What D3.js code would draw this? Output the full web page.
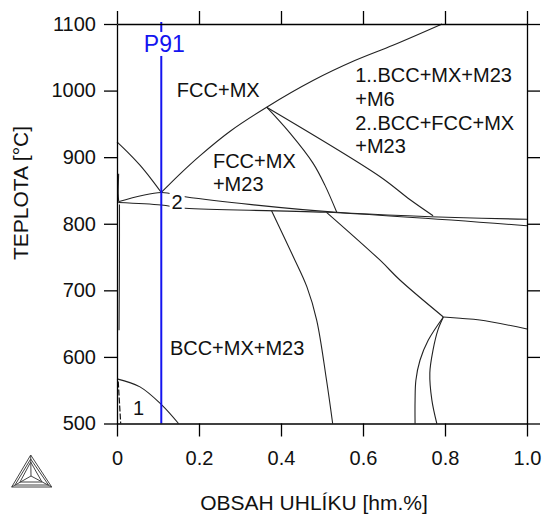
<!DOCTYPE html>
<html>
<head>
<meta charset="utf-8">
<script src="https://cdn.jsdelivr.net/npm/d3@7/dist/d3.min.js"></script>
<style>
  body { margin: 0; background: #fff; }
  svg text { font-family: "Liberation Sans", Arial, Helvetica, sans-serif; }
</style>
</head>
<body>
<script>
var xTicks = [0, 0.2, 0.4, 0.6, 0.8, 1.0];
var yTicks = [500, 600, 700, 800, 900, 1000, 1100];
var p91Carbon = 0.108;

// phase boundaries, [carbon wt.%, temperature C]
var fccMxLower = [[0.108, 847], [0.154, 875], [0.202, 902], [0.276, 939], [0.365, 975], [0.478, 1015], [0.58, 1045], [0.673, 1068], [0.793, 1100]];
var fccLeft = [[0, 923], [0.03, 905], [0.056, 888], [0.085, 866], [0.108, 847]];
var wedgeUpper = [[0.003, 833], [0.108, 847], [0.166, 840.6], [0.536, 817.2], [1.0, 806.7]];
var wedgeLower = [[0.003, 832], [0.108, 828.2], [0.166, 823.2], [0.511, 817.2], [1.0, 797]];
var m23Right = [[0.365, 975], [0.422, 936], [0.478, 891], [0.507, 858], [0.536, 817.2]];
var m6Upper = [[0.365, 975], [0.641, 871], [0.715, 836], [0.771, 812]];
var m6Lower = [[0.511, 817.2], [0.641, 745.6], [0.69, 715.5], [0.796, 660]];
var eutRight = [[0.796, 660], [0.837, 658], [0.885, 655.5], [1.0, 642]];
var eutLeftA = [[0.796, 660], [0.759, 625], [0.739, 595], [0.729, 565], [0.727, 535], [0.727, 500]];
var eutLeftB = [[0.796, 660], [0.783, 641], [0.771, 611], [0.763, 576], [0.768, 535], [0.78, 500]];
var bccMid = [[0.377, 819.5], [0.43, 750.5], [0.463, 705.5], [0.487, 655.4], [0.511, 565.3], [0.526, 500]];
var m6Low = [[0, 567], [0.056, 555], [0.109, 528], [0.15, 500]];
var nearAxisA = [[0.004, 875], [0.003, 845], [0.004, 834]];
var nearAxisB = [[0.006, 829], [0.006, 760], [0.005, 640]];
var nearAxisC = [[0.003, 563], [0.009, 500]];

var regionLabels = [
  {text: 'FCC+MX', c: 0.146, t: 990},
  {text: '1..BCC+MX+M23', c: 0.581, t: 1013},
  {text: '+M6', c: 0.581, t: 977},
  {text: '2..BCC+FCC+MX', c: 0.581, t: 941},
  {text: '+M23', c: 0.581, t: 906},
  {text: 'FCC+MX', c: 0.234, t: 884},
  {text: '+M23', c: 0.234, t: 849},
  {text: 'BCC+MX+M23', c: 0.129, t: 603},
  {text: '1', c: 0.039, t: 513}
];

var width = 543, height = 515;
var margin = {left: 117, right: 16, top: 24, bottom: 91.5};
var fontFam = '"Liberation Sans", Arial, Helvetica, sans-serif';

var svg = d3.select('body').append('svg')
  .attr('width', width)
  .attr('height', height)
  .style('background', '#fff');

var x = d3.scaleLinear().domain([0, 1]).range([margin.left, width - margin.right]);
var y = d3.scaleLinear().domain([500, 1100]).range([height - margin.bottom, margin.top]);

var line = d3.line()
  .x(function(d){ return x(d[0]); })
  .y(function(d){ return y(d[1]); })
  .curve(d3.curveCatmullRom.alpha(0.5));

var boundaries = [fccMxLower, fccLeft, wedgeUpper, wedgeLower, m23Right, m6Upper, m6Lower,
  eutRight, eutLeftA, eutLeftB, bccMid, m6Low, nearAxisA, nearAxisB];

svg.append('g')
  .selectAll('path')
  .data(boundaries)
  .enter()
  .append('path')
  .attr('d', line)
  .attr('fill', 'none')
  .attr('stroke', '#222')
  .attr('stroke-width', 1.1);

svg.append('path')
  .attr('d', line(nearAxisC))
  .attr('fill', 'none')
  .attr('stroke', '#111')
  .attr('stroke-width', 1.2)
  .attr('stroke-dasharray', '6,2');

// P91 composition
svg.append('line')
  .attr('x1', x(p91Carbon)).attr('x2', x(p91Carbon))
  .attr('y1', y(1100) - 2).attr('y2', y(500))
  .attr('stroke', '#1414f0')
  .attr('stroke-width', 2);

// axes, ticks outward on all four sides
var fmtX = function(d){ return d === 0 ? '0' : d.toFixed(1); };
var axes = [
  {ax: d3.axisBottom(x).tickValues(xTicks).tickFormat(fmtX).tickPadding(14), tr: [0, y(500)]},
  {ax: d3.axisTop(x).tickValues(xTicks).tickFormat(''), tr: [0, y(1100)]},
  {ax: d3.axisLeft(y).tickValues(yTicks).tickFormat(d3.format('d')).tickPadding(8), tr: [x(0), 0]},
  {ax: d3.axisRight(y).tickValues(yTicks).tickFormat(''), tr: [x(1), 0]}
];
axes.forEach(function(a){
  var g = svg.append('g')
    .attr('transform', 'translate(' + a.tr[0] + ',' + a.tr[1] + ')')
    .call(a.ax.tickSize(13).tickSizeOuter(0))
    .attr('font-family', fontFam)
    .attr('font-size', 20);
  g.selectAll('path, line').attr('stroke', '#000').attr('stroke-width', 1.3);
  g.selectAll('text').attr('fill', '#111');
});

// region labels
svg.append('g')
  .selectAll('text')
  .data(regionLabels)
  .enter()
  .append('text')
  .attr('x', function(d){ return x(d.c); })
  .attr('y', function(d){ return y(d.t); })
  .style('font-size', '20px')
  .attr('fill', '#111')
  .text(function(d){ return d.text; });

function boxedLabel(txt, cx, cy, color, size, anchor){
  var g = svg.append('g');
  var t = g.append('text')
    .attr('x', cx).attr('y', cy)
    .attr('text-anchor', anchor)
    .attr('fill', color)
    .style('font-size', size + 'px')
    .text(txt);
  var b = t.node().getBBox();
  g.insert('rect', 'text')
    .attr('x', b.x - 2).attr('y', b.y + 1)
    .attr('width', b.width + 4).attr('height', b.height - 2)
    .attr('fill', '#fff');
}
boxedLabel('P91', x(p91Carbon) + 3, y(1058), '#1414f0', 23, 'middle');
boxedLabel('2', x(0.132) + 6, y(822), '#111', 20, 'middle');

// axis titles
svg.append('text')
  .attr('transform', 'translate(' + 28 + ',' + 193 + ') rotate(-90)')
  .attr('text-anchor', 'middle')
  .style('font-size', '21px')
  .attr('fill', '#111')
  .text('TEPLOTA [°C]');

svg.append('text')
  .attr('x', 314).attr('y', 510)
  .attr('text-anchor', 'middle')
  .style('font-size', '21px')
  .attr('fill', '#111')
  .text('OBSAH UHLÍKU [hm.%]');

// thermo-calc logo
var logo = svg.append('g')
  .attr('fill', 'none')
  .attr('stroke', '#444')
  .attr('stroke-width', 1);
var ax0 = [30.7, 455], bl = [11.7, 487], br = [51.7, 487], ctr = [31, 476];
logo.append('path').attr('d', 'M' + ax0 + 'L' + bl + 'L' + br + 'Z');
logo.append('path').attr('d', 'M30.7,459L15,485L48.5,485Z');
logo.append('path').attr('d', 'M' + ax0 + 'L' + ctr + 'M' + bl + 'L' + ctr + 'M' + br + 'L' + ctr);
logo.append('path').attr('d', 'M30.7,462L20,482L42,482Z');
</script>
</body>
</html>
